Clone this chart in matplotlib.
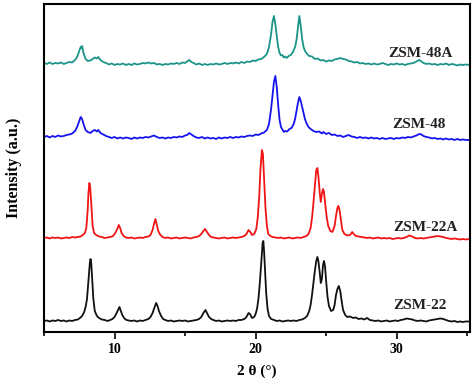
import matplotlib
matplotlib.use('Agg')
import matplotlib.pyplot as plt
from matplotlib.ticker import MultipleLocator

plt.rcParams['font.family'] = ['Liberation Serif', 'DejaVu Serif']
plt.rcParams['font.weight'] = 'bold'

zsm48a_x = [5.0, 5.2, 5.4, 5.6, 5.8, 6.0, 6.2, 6.4, 6.6, 6.8, 7.0, 7.2, 7.35, 7.5, 7.6, 7.65,
            7.7, 7.8, 7.95, 8.1, 8.3, 8.45, 8.6, 8.75, 8.85, 9.0, 9.2, 9.4, 9.6, 9.8, 10.0,
            10.2, 10.4, 10.6, 10.8, 11.0, 11.2, 11.4, 11.6, 11.8, 12.0, 12.2, 12.4, 12.6,
            12.8, 13.0, 13.2, 13.4, 13.6, 13.8, 14.0, 14.2, 14.4, 14.6, 14.8, 15.0, 15.15,
            15.3, 15.45, 15.6, 15.8, 16.0, 16.2, 16.4, 16.6, 16.8, 17.0, 17.2, 17.4, 17.6,
            17.8, 18.0, 18.2, 18.4, 18.6, 18.8, 19.0, 19.2, 19.4, 19.6, 19.8, 20.0, 20.2,
            20.4, 20.6, 20.8, 20.95, 21.1, 21.2, 21.3, 21.4, 21.5, 21.6, 21.7, 21.8, 21.9,
            22.0, 22.1, 22.2, 22.35, 22.5, 22.65, 22.8, 22.9, 23.0, 23.1, 23.2, 23.3, 23.4,
            23.5, 23.65, 23.8, 24.0, 24.2, 24.4, 24.6, 24.8, 25.0, 25.2, 25.4, 25.6, 25.8,
            26.0, 26.2, 26.4, 26.6, 26.8, 27.0, 27.2, 27.4, 27.6, 27.8, 28.0, 28.2, 28.4,
            28.6, 28.8, 29.0, 29.2, 29.4, 29.6, 29.8, 30.0, 30.2, 30.4, 30.6, 30.8, 31.0,
            31.2, 31.4, 31.6, 31.75, 31.9, 32.1, 32.3, 32.5, 32.7, 32.9, 33.1, 33.3, 33.5,
            33.7, 33.9, 34.1, 34.3, 34.5, 34.7, 34.9, 35.2]
zsm48a_y = [1, 0, 1.5, 0, 1, 0.5, 1.5, 0, 1, 2, 1.5, 4, 7, 13, 17, 16,
            18, 11, 5, 3, 3.5, 5, 6.5, 5.5, 7, 4, 2, 1, -0.5, 0.5, -1,
            0, -0.5, 0.5, -1, 0, -1, 0.5, -0.5, 0, 1, 0.5, 1.5, 0.5,
            1, -0.5, 0, -1, 0, -0.5, 0.5, 0, 1, 0, 1.5, 1, 2.5,
            4, 2, 1, -0.5, 0.5, -1, 0, -1, 0, -0.5, 0.5, -0.5, 0,
            1, 0, 1, 0.5, 1.5, 0.5, 2, 1, 2.5, 2, 3.5, 3, 4.5,
            5, 7, 10, 17, 30, 42, 48, 40, 28, 17, 11, 8.5, 9,
            6.5, 7.5, 6, 8, 9, 12, 17, 24, 36, 48, 38, 25, 17,
            13, 10, 8, 7.5, 5, 5.5, 3.5, 4, 2.5, 3.5, 3, 4.5, 5,
            6, 5, 4.5, 3, 2.5, 1.5, 2, 0.5, 1, 0, 0.5, -0.5, 0.5,
            -0.5, 0, 1, 0, -1, 0, -0.5, 0.5, -0.5, 0, -1, 0, 0.5,
            1, 2.5, 4, 2.5, 1, 0, 0.5, -0.5, 0, -1, 0, -0.5, 0.5,
            -1, 0, -0.5, -1.5, -0.5, -1, -0.5, -1]

zsm48_x = [5.0, 5.2, 5.4, 5.6, 5.8, 6.0, 6.2, 6.4, 6.6, 6.8, 7.0, 7.2, 7.35, 7.5, 7.6, 7.7,
           7.8, 7.95, 8.1, 8.3, 8.45, 8.6, 8.75, 8.85, 9.0, 9.2, 9.4, 9.6, 9.8, 10.0, 10.2,
           10.4, 10.6, 10.8, 11.0, 11.2, 11.4, 11.6, 11.8, 12.0, 12.2, 12.4, 12.6, 12.8,
           13.0, 13.2, 13.4, 13.6, 13.8, 14.0, 14.2, 14.4, 14.6, 14.8, 15.0, 15.15, 15.3,
           15.45, 15.6, 15.8, 16.0, 16.2, 16.4, 16.6, 16.8, 17.0, 17.2, 17.4, 17.6, 17.8,
           18.0, 18.2, 18.4, 18.6, 18.8, 19.0, 19.2, 19.4, 19.6, 19.8, 20.0, 20.2, 20.4,
           20.6, 20.8, 20.95, 21.1, 21.2, 21.3, 21.4, 21.5, 21.6, 21.7, 21.8, 21.9, 22.0,
           22.1, 22.25, 22.4, 22.55, 22.7, 22.8, 22.9, 23.0, 23.1, 23.2, 23.3, 23.4, 23.5,
           23.6, 23.75, 23.9, 24.1, 24.3, 24.5, 24.7, 24.8, 25.0, 25.2, 25.4, 25.6, 25.8,
           26.0, 26.2, 26.4, 26.6, 26.8, 27.0, 27.2, 27.4, 27.6, 27.8, 28.0, 28.2, 28.4,
           28.6, 28.8, 29.0, 29.2, 29.4, 29.6, 29.8, 30.0, 30.2, 30.4, 30.6, 30.8, 31.0,
           31.2, 31.4, 31.6, 31.75, 31.9, 32.1, 32.3, 32.5, 32.7, 32.9, 33.1, 33.3, 33.5,
           33.7, 33.9, 34.1, 34.3, 34.5, 34.7, 34.9, 35.2]
zsm48_y = [0, 1, -0.5, 1, 0, 1.5, 0.5, 1, 2, 2.5, 3.5, 6, 10, 16, 20, 18,
           13, 7, 5, 4, 6, 7, 5.5, 7, 4, 2.5, 1, 0, -1, 0, -1.5,
           -0.5, -1.5, -0.5, -1, -2, -0.5, -1.5, -0.5, -1, 0, -0.5, 0.5, 1.5,
           0, -1, -0.5, -1.5, -0.5, -1, 0, -0.5, 0.5, 0, 1.5, 2, 4,
           2.5, 1, -0.5, -1, 0, -1.5, -0.5, -1.5, -1, -2, -0.5, -1.5, -0.5,
           -1, 0, -1, 0, -0.5, 0.5, 0, 1, 1.5, 1, 2.5, 2, 3.5,
           4.5, 7, 13, 28, 42, 55, 61, 50, 32, 17, 10, 7.5, 5,
           6, 5.5, 8, 9, 13, 18, 26, 34, 40, 36, 30, 24, 18,
           14, 10, 8, 6, 5, 5.5, 3.5, 5, 3, 4, 2, 2.5, 1,
           1.5, 0, 1, 2, 0.5, 0, -1, 0, -1, -0.5, -1.5, -0.5, -1.5,
           -1, -2, -1, -2, -1.5, -1, -2, -1, -1.5, -0.5, -1, 0, -0.5,
           0.5, 1.5, 3, 2.5, 1, 0, -0.5, -1.5, -1, -2, -1.5, -2.5, -1.5,
           -2.5, -2, -3, -2, -3, -2.5, -3, -3]

zsm22a_x = [5.0, 5.2, 5.4, 5.6, 5.8, 6.0, 6.2, 6.4, 6.6, 6.8, 7.0, 7.2, 7.4, 7.6, 7.75, 7.9,
            8.0, 8.1, 8.15, 8.22, 8.28, 8.35, 8.45, 8.55, 8.7, 8.9, 9.1, 9.3, 9.5, 9.7,
            9.9, 10.05, 10.2, 10.3, 10.4, 10.5, 10.65, 10.8, 11.0, 11.2, 11.4, 11.6, 11.8,
            12.0, 12.2, 12.4, 12.55, 12.7, 12.8, 12.9, 13.0, 13.1, 13.25, 13.4, 13.6, 13.8,
            14.0, 14.2, 14.4, 14.6, 14.8, 15.0, 15.2, 15.4, 15.6, 15.8, 16.0, 16.15, 16.3,
            16.42, 16.55, 16.7, 16.85, 17.0, 17.2, 17.4, 17.6, 17.8, 18.0, 18.2, 18.4, 18.6,
            18.8, 19.0, 19.2, 19.35, 19.5, 19.62, 19.75, 19.9, 20.05, 20.15, 20.25, 20.35,
            20.45, 20.52, 20.6, 20.7, 20.8, 20.9, 21.05, 21.2, 21.4, 21.6, 21.8, 22.0, 22.2,
            22.4, 22.6, 22.8, 23.0, 23.2, 23.4, 23.6, 23.75, 23.9, 24.0, 24.1, 24.2, 24.3,
            24.38, 24.45, 24.55, 24.62, 24.7, 24.78, 24.85, 24.95, 25.05, 25.15, 25.3, 25.45,
            25.6, 25.7, 25.8, 25.87, 25.95, 26.05, 26.15, 26.3, 26.5, 26.7, 26.85, 26.95,
            27.1, 27.3, 27.5, 27.7, 27.9, 28.1, 28.3, 28.5, 28.7, 28.9, 29.1, 29.3, 29.5,
            29.7, 29.9, 30.1, 30.3, 30.5, 30.7, 30.9, 31.1, 31.3, 31.5, 31.7, 31.9, 32.1,
            32.3, 32.5, 32.7, 32.9, 33.1, 33.3, 33.5, 33.7, 33.9, 34.1, 34.3, 34.5, 34.7,
            34.9, 35.2]
zsm22a_y = [0, 0.5, -0.5, 0.5, 0, 0.5, -0.5, 0, 0.5, 0, 1, 0.5, 1, 1.5, 3, 5,
            10, 28, 45, 55, 50, 35, 12, 5, 3, 1.5, 1, 0, 0.5, 1,
            2, 5, 9, 13, 10, 5, 2, 0.5, 0, 0.5, -0.5, 0, 0.5,
            0, 1, 1.5, 3, 8, 14, 19, 13, 7, 3, 1, 0, 0.5,
            -0.5, 0, 0.5, -0.5, 0, 0.5, 0, -0.5, 0.5, 1, 2, 4, 7,
            9, 6, 3, 1, 0.5, 0, -0.5, 0, 0.5, -0.5, 0, 0.5, 0,
            0.5, 1, 2, 4, 8, 6, 3, 4, 9, 20, 40, 70,
            88, 84, 60, 30, 12, 4, 2, 1, 0.5, 0, 0.5, -0.5, 0,
            0.5, -0.5, 0, 0.5, 0, 1, 2, 4, 10, 20, 35, 52, 68,
            70, 62, 45, 36, 44, 49, 46, 32, 20, 12, 7, 6,
            12, 22, 30, 32, 28, 18, 8, 4, 2.5, 3, 6, 4,
            2, 1.5, 1, 0.5, 0, 0.5, -0.5, 0, 0.5, -0.5, 0, -0.5, 0,
            -1, -0.5, 0, -0.5, 0, 1, 2.5, 1.5, 0, -0.5, 0, -0.5, 0,
            0.5, 1, 1.5, 2, 1.5, 1, 0, -0.5, -1, -0.5, -1, -1.5, -1,
            -1.5, -1]

zsm22_x = [5.0, 5.2, 5.4, 5.6, 5.8, 6.0, 6.2, 6.4, 6.6, 6.8, 7.0, 7.2, 7.4, 7.55, 7.7, 7.85,
           7.95, 8.05, 8.15, 8.25, 8.3, 8.35, 8.42, 8.5, 8.6, 8.75, 8.9, 9.1, 9.3, 9.5,
           9.7, 9.85, 10.0, 10.15, 10.28, 10.35, 10.45, 10.55, 10.7, 10.85, 11.0, 11.2,
           11.4, 11.6, 11.8, 12.0, 12.2, 12.4, 12.55, 12.7, 12.82, 12.95, 13.05, 13.15,
           13.3, 13.45, 13.6, 13.8, 14.0, 14.2, 14.4, 14.6, 14.8, 15.0, 15.2, 15.4, 15.6,
           15.8, 16.0, 16.15, 16.3, 16.45, 16.55, 16.7, 16.85, 17.0, 17.2, 17.4, 17.6,
           17.8, 18.0, 18.2, 18.4, 18.6, 18.8, 19.0, 19.2, 19.35, 19.5, 19.6, 19.75, 19.9,
           20.0, 20.1, 20.2, 20.3, 20.4, 20.5, 20.55, 20.6, 20.68, 20.75, 20.85, 20.95,
           21.1, 21.3, 21.5, 21.7, 21.9, 22.1, 22.3, 22.5, 22.7, 22.9, 23.1, 23.3, 23.5,
           23.65, 23.8, 23.9, 24.0, 24.1, 24.2, 24.3, 24.38, 24.45, 24.55, 24.62, 24.7,
           24.78, 24.85, 24.92, 25.0, 25.1, 25.2, 25.35, 25.5, 25.6, 25.7, 25.8, 25.9,
           26.0, 26.1, 26.2, 26.35, 26.5, 26.7, 26.9, 27.1, 27.3, 27.5, 27.7, 27.9, 28.1,
           28.3, 28.5, 28.7, 28.9, 29.1, 29.3, 29.5, 29.7, 29.9, 30.1, 30.3, 30.5, 30.7,
           30.9, 31.1, 31.3, 31.5, 31.7, 31.9, 32.1, 32.3, 32.5, 32.7, 32.9, 33.1, 33.3,
           33.5, 33.7, 33.9, 34.1, 34.3, 34.5, 34.7, 34.9, 35.2]
zsm22_y = [0, 0.5, -0.5, 0.5, 0, 1, 0, 0.5, -0.5, 0.5, 0, 1, 1.5, 3, 5, 9,
           14, 22, 40, 58, 62, 58, 42, 22, 10, 5, 3, 1.5, 1, 0,
           1, 2, 4, 8, 12, 14, 10, 6, 2.5, 1, 0.5, 0,
           0.5, -0.5, 0.5, 0, 1, 2, 4, 8, 13, 18, 15, 10,
           5, 2, 1, 0, 0.5, -0.5, 0, 0.5, 0, 0.5, -0.5, 0, 0.5,
           1, 2, 4, 8, 11, 8, 4, 2, 1, 0, 0.5, -0.5,
           0, 0.5, 0, 0.5, 0, 1, 1, 2, 4, 8, 7, 3, 4,
           7, 12, 22, 38, 58, 78, 80, 70, 48, 28, 12, 5,
           2, 1, 0, 0.5, -0.5, 0, 0.5, 0, 0.5, 0, 1, 1.5, 3,
           5, 10, 16, 26, 38, 50, 60, 64, 60, 48, 38, 42,
           56, 60, 55, 40, 24, 15, 10, 11, 16, 26, 32, 35,
           30, 20, 11, 6, 4, 4.5, 3, 3.5, 2, 2.5, 1.5, 3, 1,
           0.5, 0, 0.5, -0.5, 0, 0.5, -0.5, 0, 0.5, 0, 1, 1.5, 2.5,
           2, 1.5, 0.5, 0, 0.5, 0, -0.5, 0.5, 1, 1.5, 2, 2.5, 2,
           1, 0, -0.5, 0, -1, -0.5, -1, -0.5, -0.5]

labels = ['ZSM-48A', 'ZSM-48', 'ZSM-22A', 'ZSM-22']
offsets = [268, 195, 94, 11]
colors = ['#1b9488', '#1414f0', '#f01414', '#111111']
label_pos = [(29.4, 278), (29.7, 207), (29.75, 104), (29.75, 26)]

traces = [(zsm48a_x, zsm48a_y), (zsm48_x, zsm48_y),
          (zsm22a_x, zsm22a_y), (zsm22_x, zsm22_y)]
for xs, ys in traces:
    assert len(xs) == len(ys), (len(xs), len(ys))

fig = plt.figure(figsize=(4.74, 3.83), dpi=100)
ax = fig.add_axes([0.0928, 0.1332, 0.8988, 0.8564])

for (xs, ys), off, c, lab, (lx, ly) in zip(traces, offsets, colors, labels, label_pos):
    ax.plot(xs, [v + off for v in ys], color=c, lw=1.3)
    ax.text(lx, ly, lab, fontsize=11, fontweight='bold', ha='left', va='center',
            color='#222222')

ax.set_xlim(5, 35.2)
ax.set_ylim(0, 328)
ax.xaxis.set_major_locator(MultipleLocator(10))
ax.xaxis.set_minor_locator(MultipleLocator(5))
ax.set_yticks([])
ax.tick_params(axis='x', which='major', direction='out', length=5, width=1.2,
               labelsize=10, pad=3)
ax.tick_params(axis='x', which='minor', direction='out', length=3, width=1.2)
for lbl in ax.get_xticklabels():
    lbl.set_fontweight('bold')
for sp in ax.spines.values():
    sp.set_linewidth(1.5)

ax.set_xlabel('2 θ (°)', fontsize=11, fontweight='bold', labelpad=6)
ax.set_ylabel('Intensity (a.u.)', fontsize=11.5, fontweight='bold', labelpad=16)

fig.savefig('out.png', dpi=100)
